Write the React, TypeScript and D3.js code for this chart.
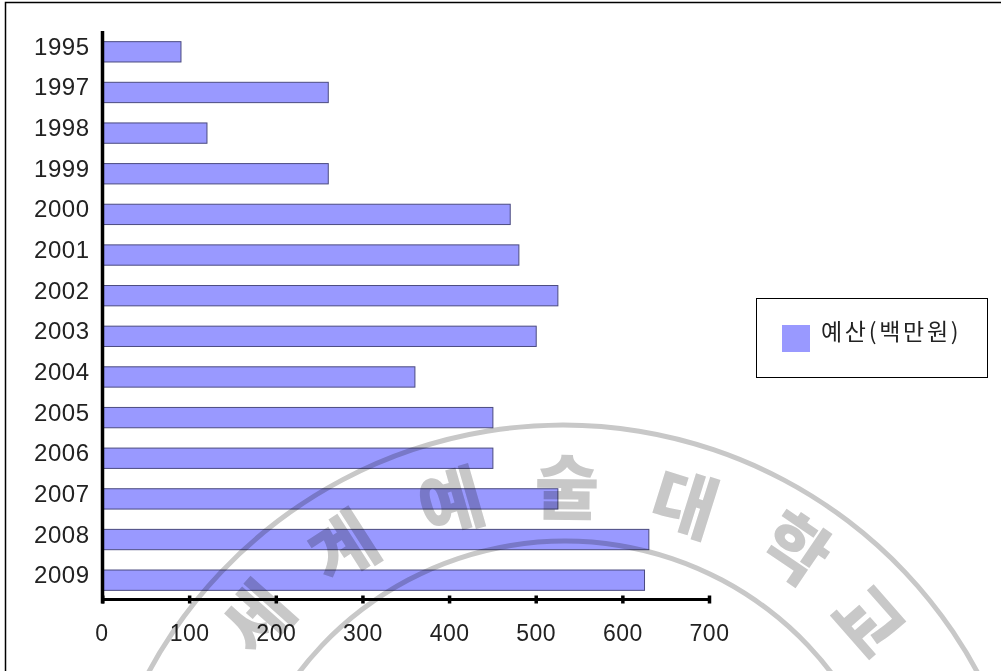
import React from "react";
import * as d3 from "d3";

const years = ["1995","1997","1998","1999","2000","2001","2002","2003","2004","2005","2006","2007","2008","2009"];
const budget = [90,260,120,260,470,480,525,500,360,450,450,525,630,625];
const xTicks = [0,100,200,300,400,500,600,700];
const seriesName = "예산(백만원)";

// Seal printed across the lower part of the page: glyph, centre x, centre y
const sealGlyphs = ["세","계","예","술","대","학","교"];
const sealX = [254,341,450,567,686,798,872];
const sealY = [615,544,498,483,499,545,618];

const BAR = "#9999ff";
const SEAL = "#c8c8c8";
const LABEL_FONT = "'Liberation Sans', Arial, sans-serif";
const KR_FONT = "'Noto Sans CJK KR', sans-serif";

export default function App() {
  const x = d3.scaleLinear().domain([0, 700]).range([103, 709.5]);
  const y = d3.scaleBand().domain(years).range([31.5, 600.5]).paddingInner(0.5).paddingOuter(0.25);
  const baseY = 599.5;
  const cx = 563;

  const outerArc = d3.arc()({ innerRadius: 468.5, outerRadius: 473.5, startAngle: -1.3, endAngle: 1.3 }) as string;
  const innerArc = d3.arc()({ innerRadius: 332.5, outerRadius: 337.5, startAngle: -1.3, endAngle: 1.3 }) as string;

  return (
    <svg
      width={1001}
      height={671}
      viewBox="0 0 1001 671"
      style={{ position: "absolute", left: 0, top: 0, background: "#fff" }}
    >
      <defs>
        <filter id="soft" x="-5%" y="-5%" width="110%" height="110%">
          <feGaussianBlur stdDeviation="0.7" />
        </filter>
      </defs>

      {/* page frame: only the top and left rules are visible */}
      <path d="M5.5 671V2.5H1001" fill="none" stroke="#000" strokeWidth={1.5} />

      {/* bars */}
      {years.map((yr, i) => (
        <rect
          key={yr}
          x={x(0)}
          y={y(yr)}
          width={x(budget[i]) - x(0)}
          height={y.bandwidth()}
          fill={BAR}
          stroke="#4b4b80"
          strokeWidth={1}
        />
      ))}

      {/* axes */}
      <line x1={x(0) - 0.5} x2={x(0) - 0.5} y1={31} y2={baseY + 4} stroke="#000" strokeWidth={3.5} />
      <line x1={x(0) - 1.5} x2={x(700)} y1={baseY} y2={baseY} stroke="#000" strokeWidth={3} />
      {xTicks.map((t) => (
        <g key={t}>
          <line x1={x(t)} x2={x(t)} y1={baseY - 4} y2={baseY + 4} stroke="#000" strokeWidth={t === 0 ? 3 : 3.5} />
          <text
            x={x(t) - (t === 0 ? 1 : 0)}
            y={641}
            textAnchor="middle"
            fontFamily={LABEL_FONT}
            fontSize={23}
            letterSpacing={0.5}
            fill="#222"
          >
            {t}
          </text>
        </g>
      ))}
      {years.map((yr) => (
        <text
          key={yr}
          x={89.5}
          y={(y(yr) as number) + y.bandwidth() / 2 + 3}
          textAnchor="end"
          fontFamily={LABEL_FONT}
          fontSize={24}
          letterSpacing={0.5}
          fill="#222"
        >
          {yr}
        </text>
      ))}

      {/* legend */}
      <rect x={756.5} y={298.5} width={231} height={79} fill="#fff" stroke="#000" strokeWidth={1} />
      <rect x={782} y={325} width={28} height={27} fill={BAR} />
      <text x={821} y={340} fontFamily={KR_FONT} fontSize={23} letterSpacing={2.7} fill="#222">
        {seriesName}
      </text>

      {/* seal */}
      <g style={{ mixBlendMode: "multiply" }} filter="url(#soft)" fill={SEAL}>
        <path d={outerArc} transform={`translate(${cx},896)`} />
        <path d={innerArc} transform={`translate(${cx + 2},876)`} />
        {sealGlyphs.map((g, i) => {
          const deg = (Math.atan2(sealX[i] - cx, 890 - sealY[i]) * 180) / Math.PI;
          return (
            <text
              key={g}
              transform={`translate(${sealX[i]},${sealY[i]}) rotate(${deg})`}
              textAnchor="middle"
              dominantBaseline="central"
              fontFamily={KR_FONT}
              fontWeight={900}
              fontSize={70}
            >
              {g}
            </text>
          );
        })}
      </g>
    </svg>
  );
}
